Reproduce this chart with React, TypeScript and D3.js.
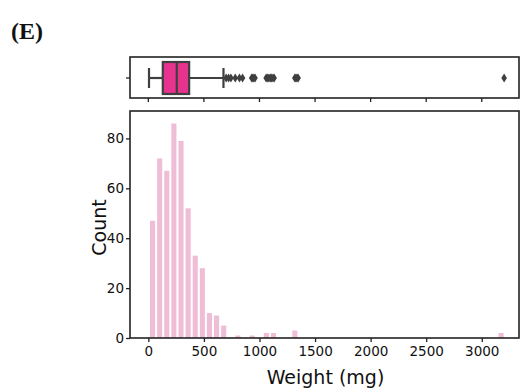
import React, { useEffect, useRef } from 'react';
import * as d3 from 'd3';

// Histogram bins (mg): start, width, and counts per bin
const binStart = 6;
const binWidth = 64;
const binCounts = [
  47, 72, 67, 86, 79, 52, 33, 28, 10, 9,
  5, 0, 1, 0, 1, 0, 2, 2, 0, 0,
  3, 0, 0, 0, 0, 0, 0, 0, 0, 0,
  0, 0, 0, 0, 0, 0, 0, 0, 0, 0,
  0, 0, 0, 0, 0, 0, 0, 0, 0, 2,
];

// Box plot summary (mg)
const boxStats = { whiskerLow: 6, q1: 130, median: 256, q3: 367, whiskerHigh: 676 };
const outliers = [700, 722, 743, 782, 820, 848, 930, 940, 950, 960, 1060, 1072, 1085, 1097, 1110, 1122, 1132, 1318, 1328, 1338, 1348, 3201];

const xTicks = [0, 500, 1000, 1500, 2000, 2500, 3000];
const yTicks = [0, 20, 40, 60, 80];

const App: React.FC = () => {
  const svgRef = useRef<SVGSVGElement>(null);

  useEffect(() => {
    if (!svgRef.current) return;
    const svg = d3.select(svgRef.current);
    svg.selectAll('*').remove();

    const left = 130;
    const right = 519;
    const font = 'DejaVu Sans, sans-serif';
    const dark = '#3f3f3f';

    const x = d3.scaleLinear().domain([-165, 3335]).range([left, right]);

    // ---- box plot panel ----
    const boxTop = 57;
    const boxBottom = 98;
    const cy = 78;

    const bp = svg.append('g');
    bp.append('rect')
      .attr('x', left).attr('y', boxTop)
      .attr('width', right - left).attr('height', boxBottom - boxTop)
      .attr('fill', 'none').attr('stroke', '#222').attr('stroke-width', 1.6);

    // ticks without labels
    xTicks.forEach(t => {
      bp.append('line')
        .attr('x1', x(t)).attr('x2', x(t))
        .attr('y1', boxBottom).attr('y2', boxBottom + 4)
        .attr('stroke', '#222').attr('stroke-width', 1.3);
    });
    bp.append('line')
      .attr('x1', left - 4).attr('x2', left)
      .attr('y1', cy).attr('y2', cy)
      .attr('stroke', '#222').attr('stroke-width', 1.3);

    // whiskers
    bp.append('line')
      .attr('x1', x(boxStats.whiskerLow)).attr('x2', x(boxStats.q1))
      .attr('y1', cy).attr('y2', cy)
      .attr('stroke', dark).attr('stroke-width', 2.2);
    bp.append('line')
      .attr('x1', x(boxStats.q3)).attr('x2', x(boxStats.whiskerHigh))
      .attr('y1', cy).attr('y2', cy)
      .attr('stroke', dark).attr('stroke-width', 2.2);
    [boxStats.whiskerLow, boxStats.whiskerHigh].forEach(v => {
      bp.append('line')
        .attr('x1', x(v)).attr('x2', x(v))
        .attr('y1', cy - 10).attr('y2', cy + 10)
        .attr('stroke', dark).attr('stroke-width', 2.2);
    });

    // box + median
    bp.append('rect')
      .attr('x', x(boxStats.q1)).attr('y', 62)
      .attr('width', x(boxStats.q3) - x(boxStats.q1)).attr('height', 32)
      .attr('fill', '#e7328e').attr('stroke', dark).attr('stroke-width', 2.2);
    bp.append('line')
      .attr('x1', x(boxStats.median)).attr('x2', x(boxStats.median))
      .attr('y1', 62).attr('y2', 94)
      .attr('stroke', dark).attr('stroke-width', 2.2);

    // outliers as thin diamonds
    bp.selectAll('path.outlier')
      .data(outliers)
      .enter()
      .append('path')
      .attr('class', 'outlier')
      .attr('d', d => `M${x(d)},${cy - 4.5}L${x(d) + 2.8},${cy}L${x(d)},${cy + 4.5}L${x(d) - 2.8},${cy}Z`)
      .attr('fill', dark);

    // ---- histogram panel ----
    const top = 111;
    const bottom = 338;
    const y = d3.scaleLinear().domain([0, 91]).range([bottom, top]);

    const hist = svg.append('g');
    hist.selectAll('rect.bar')
      .data(binCounts.map((c, i) => ({ c, x0: binStart + i * binWidth, x1: binStart + (i + 1) * binWidth })))
      .enter()
      .filter(d => d.c > 0)
      .append('rect')
      .attr('class', 'bar')
      .attr('x', d => x(d.x0) + 1)
      .attr('y', d => y(d.c))
      .attr('width', d => x(d.x1) - x(d.x0) - 2)
      .attr('height', d => bottom - y(d.c))
      .attr('fill', '#f0bdd7');

    hist.append('rect')
      .attr('x', left).attr('y', top)
      .attr('width', right - left).attr('height', bottom - top)
      .attr('fill', 'none').attr('stroke', '#222').attr('stroke-width', 1.6);

    // x axis
    const xAxis = hist.append('g')
      .attr('transform', `translate(0,${bottom})`)
      .call(d3.axisBottom(x).tickValues(xTicks).tickSize(4).tickPadding(4).tickFormat(d3.format('d')));
    xAxis.select('.domain').remove();
    xAxis.selectAll('line').attr('stroke', '#222').attr('stroke-width', 1.3);
    xAxis.selectAll('text').style('font-size', '13.5px').style('font-family', font).attr('fill', '#111');

    // y axis
    const yAxis = hist.append('g')
      .attr('transform', `translate(${left},0)`)
      .call(d3.axisLeft(y).tickValues(yTicks).tickSize(4).tickPadding(2));
    yAxis.select('.domain').remove();
    yAxis.selectAll('line').attr('stroke', '#222').attr('stroke-width', 1.3);
    yAxis.selectAll('text').style('font-size', '13.5px').style('font-family', font).attr('fill', '#111');

    // axis labels
    svg.append('text')
      .attr('x', (left + right) / 2 + 1)
      .attr('y', 384)
      .attr('text-anchor', 'middle')
      .style('font-family', font)
      .style('font-size', '19px')
      .attr('fill', '#111')
      .text('Weight (mg)');

    svg.append('text')
      .attr('transform', `translate(106,${(top + bottom) / 2 + 3}) rotate(-90)`)
      .attr('text-anchor', 'middle')
      .style('font-family', font)
      .style('font-size', '19px')
      .attr('fill', '#111')
      .text('Count');

    // panel letter
    svg.append('text')
      .attr('x', 11)
      .attr('y', 39)
      .style('font-family', 'Liberation Serif, serif')
      .style('font-size', '24px')
      .style('font-weight', 'bold')
      .attr('fill', '#111')
      .text('(E)');
  }, []);

  return (
    <svg
      ref={svgRef}
      width={521}
      height={390}
      style={{ position: 'absolute', left: 0, top: 0, background: '#fff' }}
    />
  );
};

export default App;
